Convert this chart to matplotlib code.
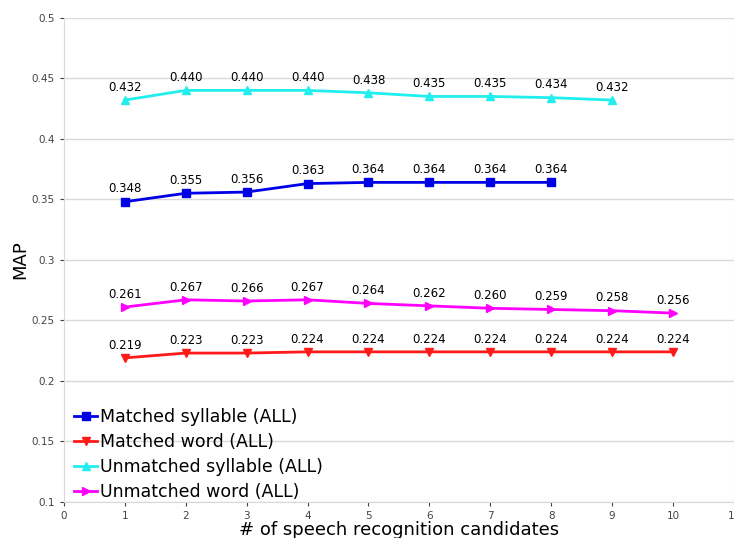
import matplotlib.pyplot as plt

# Values
candidates = [1, 2, 3, 4, 5, 6, 7, 8, 9, 10]
matched_syllable = [0.348, 0.355, 0.356, 0.363, 0.364, 0.364, 0.364, 0.364]
matched_word = [0.219, 0.223, 0.223, 0.224, 0.224, 0.224, 0.224, 0.224, 0.224, 0.224]
unmatched_syllable = [0.432, 0.440, 0.440, 0.440, 0.438, 0.435, 0.435, 0.434, 0.432]
unmatched_word = [0.261, 0.267, 0.266, 0.267, 0.264, 0.262, 0.260, 0.259, 0.258, 0.256]

series = [
    ("Matched syllable (ALL)", matched_syllable, "#0000e6", "s"),
    ("Matched word (ALL)", matched_word, "#ff1a1a", "v"),
    ("Unmatched syllable (ALL)", unmatched_syllable, "#22eeee", "^"),
    ("Unmatched word (ALL)", unmatched_word, "#ff00ff", ">"),
]

fig = plt.figure(figsize=(7.34, 5.38), dpi=100)
ax = fig.add_axes([0.087, 0.067, 0.913, 0.9])

for label, vals, color, marker in series:
    xs = candidates[:len(vals)]
    ax.plot(xs, vals, color=color, marker=marker, markersize=6, linewidth=2, label=label)
    for x, y in zip(xs, vals):
        ax.annotate(f"{y:.3f}", (x, y), xytext=(0, 4.5), textcoords="offset points",
                    ha="center", va="bottom", fontsize=8.5)

ax.set_xlim(0, 11)
ax.set_ylim(0.1, 0.5)
ax.set_xticks(range(0, 12))
ax.set_yticks([0.1, 0.15, 0.2, 0.25, 0.3, 0.35, 0.4, 0.45, 0.5])
ax.set_yticklabels(["0.1", "0.15", "0.2", "0.25", "0.3", "0.35", "0.4", "0.45", "0.5"])
ax.tick_params(labelsize=7.5, colors="#444444", length=3)
ax.grid(axis="y", color="#d9d9d9", linewidth=1)
ax.set_axisbelow(True)
for side in ["top", "right", "bottom", "left"]:
    ax.spines[side].set_color("#d9d9d9")
ax.spines["top"].set_visible(False)

ax.set_xlabel("# of speech recognition candidates", fontsize=13, labelpad=0)
ax.set_ylabel("MAP", fontsize=13, labelpad=2)

ax.legend(loc="lower left", bbox_to_anchor=(0.0, -0.02), frameon=False, fontsize=12.5,
          handlelength=1.3, handletextpad=0.2, labelspacing=0.4, borderaxespad=0.2)

fig.savefig("out.png", dpi=100)
